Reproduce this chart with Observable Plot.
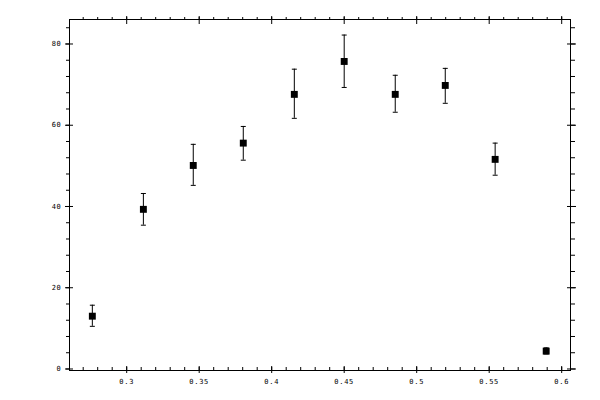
<!DOCTYPE html>
<html>
<head>
<meta charset="utf-8">
<style>
  html, body { margin: 0; padding: 0; background: #fff; }
  svg { display: block; }
</style>
<script src="https://cdn.jsdelivr.net/npm/d3@7"></script>
<script src="https://cdn.jsdelivr.net/npm/@observablehq/plot@0.6"></script>
</head>
<body>
<div id="chart"></div>
<script>
// Data
const xs   = [0.2763, 0.3115, 0.3459, 0.3804, 0.4156, 0.4500, 0.4852, 0.5197, 0.5541, 0.5893];
const ys   = [13.0, 39.3, 50.1, 55.6, 67.6, 75.7, 67.6, 69.8, 51.6, 4.4];
const yHi  = [15.7, 43.2, 55.3, 59.7, 73.8, 82.2, 72.3, 74.0, 55.6, 5.2];
const yLo  = [10.5, 35.4, 45.2, 51.4, 61.7, 69.3, 63.2, 65.4, 47.7, 3.7];

// Tick values and labels
const xMajor = [0.3, 0.35, 0.4, 0.45, 0.5, 0.55, 0.6];
const xLabels = ["0.3", "0.35", "0.4", "0.45", "0.5", "0.55", "0.6"];
const xMinor = [0.27,0.28,0.29,0.30,0.31,0.32,0.33,0.34,0.35,0.36,0.37,0.38,0.39,0.40,0.41,0.42,0.43,0.44,0.45,0.46,0.47,0.48,0.49,0.50,0.51,0.52,0.53,0.54,0.55,0.56,0.57,0.58,0.59,0.60];
const yMajor = [0, 20, 40, 60, 80];
const yLabels = ["0", "20", "40", "60", "80"];
const yMinor = [0,4,8,12,16,20,24,28,32,36,40,44,48,52,56,60,64,68,72,76,80,84];

const data = xs.map((x, i) => ({x, y: ys[i], hi: yHi[i], lo: yLo[i]}));

const capSymbol = {
  draw(context, size) {
    context.moveTo(-2.5, 0);
    context.lineTo(2.5, 0);
  }
};

const noLabel = () => "";
const xFmt = (d) => xLabels[xMajor.indexOf(d)];
const yFmt = (d) => yLabels[yMajor.indexOf(d)];

const chart = Plot.plot({
  width: 600,
  height: 400,
  marginLeft: 69,
  marginRight: 30,
  marginTop: 19,
  marginBottom: 30,
  style: {
    fontFamily: "'DejaVu Sans Mono', monospace",
    fontSize: "7px",
    letterSpacing: "0.7px",
    color: "#000",
    background: "#fff"
  },
  x: {domain: [0.26055, 0.60607]},
  y: {domain: [-0.37, 86.03]},
  marks: [
    Plot.frame({stroke: "#000", strokeWidth: 1}),
    // bottom axis: minor ticks pointing up, major crossing
    Plot.axisX({anchor: "bottom", ticks: xMinor, tickSize: 3, dy: -3, tickFormat: noLabel, label: null, stroke: "#000"}),
    Plot.axisX({anchor: "bottom", ticks: xMajor, tickSize: 7, dy: -4, tickFormat: noLabel, label: null, stroke: "#000"}),
    Plot.axisX({anchor: "bottom", ticks: xMajor, tickSize: 0, tickPadding: 9, tickFormat: xFmt, label: null, fill: "#000"}),
    // top axis
    Plot.axisX({anchor: "top", ticks: xMinor, tickSize: 3, tickFormat: noLabel, label: null, stroke: "#000"}),
    Plot.axisX({anchor: "top", ticks: xMajor, tickSize: 8, dy: 4, tickFormat: noLabel, label: null, stroke: "#000"}),
    // left axis
    Plot.axisY({anchor: "left", ticks: yMinor, tickSize: 3, tickFormat: noLabel, label: null, stroke: "#000"}),
    Plot.axisY({anchor: "left", ticks: yMajor, tickSize: 8, dx: 4, tickFormat: noLabel, label: null, stroke: "#000"}),
    Plot.axisY({anchor: "left", ticks: yMajor, tickSize: 0, tickPadding: 8, tickFormat: yFmt, label: null, fill: "#000"}),
    // right axis
    Plot.axisY({anchor: "right", ticks: yMinor, tickSize: 4, tickFormat: noLabel, label: null, stroke: "#000"}),
    Plot.axisY({anchor: "right", ticks: yMajor, tickSize: 9, dx: -4, tickFormat: noLabel, label: null, stroke: "#000"}),
    // error bars
    Plot.ruleX(data, {x: "x", y1: "lo", y2: "hi", stroke: "#000", strokeWidth: 1}),
    Plot.dot(data, {x: "x", y: "hi", symbol: capSymbol, stroke: "#000", strokeWidth: 1, r: 3}),
    Plot.dot(data, {x: "x", y: "lo", symbol: capSymbol, stroke: "#000", strokeWidth: 1, r: 3}),
    // markers
    Plot.dot(data, {x: "x", y: "y", symbol: "square", fill: "#000", stroke: "none", r: 3.9})
  ]
});

document.getElementById("chart").appendChild(chart);
</script>
</body>
</html>
